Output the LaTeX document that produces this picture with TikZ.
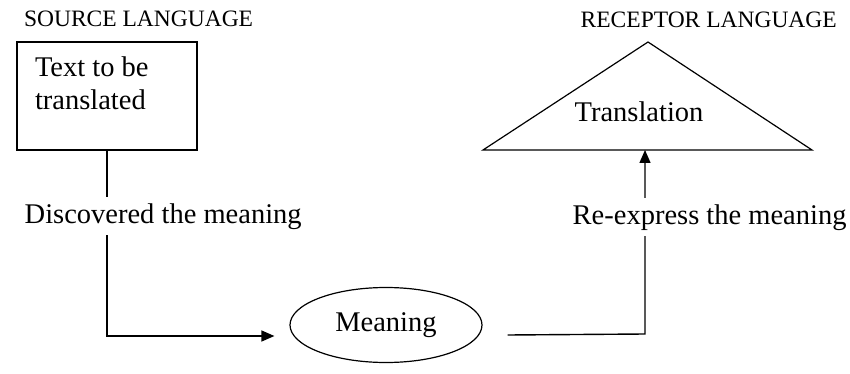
\documentclass[tikz,border=0pt]{standalone}
\usepackage{fontspec}
\setmainfont{Liberation Serif}
\usetikzlibrary{positioning, shapes.geometric, arrows.meta}

\begin{document}
\begin{tikzpicture}[x = 1pt, y = -1pt, line width = 1.4pt,
    box/.style = {draw, rectangle, minimum width = 180pt, minimum height = 108pt},
    mean/.style = {draw, ellipse, line width = 1.2pt, minimum width = 192pt, minimum height = 75pt, font = \fontsize{28.5}{33}\selectfont},
    words/.style = {inner sep = 0pt, font = \fontsize{28.5}{33}\selectfont},
    title/.style = {inner sep = 0pt, font = \fontsize{23.5}{28}\selectfont},
    says/.style = {fill = white, inner sep = 6pt, font = \fontsize{28.5}{33}\selectfont},
    arr/.style = {-{Triangle[length = 13pt, width = 11pt]}}]
    \useasboundingbox (0,0) rectangle (850,374);
    \node[box] (src) at (107,96) {};
    \node[title] (srclang) [above right = 14pt and 7pt of src.north west] {SOURCE LANGUAGE};
    \node[words, align = left] (srctext) [below right = 15pt and 18pt of src.north west] {Text to be\\translated};
    \node[mean] (mean) at (386,325) {Meaning};
    \coordinate (apex) at (648,42);
    \coordinate (baseL) at (483,150);
    \coordinate (baseR) at (812,150);
    \coordinate (hit) at (645,150);
    \coordinate (turn) at (645,334);
    \draw[line width = 1.2pt] (baseL) -- (apex) -- (baseR) -- cycle;
    \node[words] (trans) at (639,112) {Translation};
    \node[title, anchor = base west] (reclang) at (580,28) {RECEPTOR LANGUAGE};
    \draw[arr] (src.south) |- ([shift = {(-15pt,-11pt)}]mean.west);
    \draw[arr] ([shift = {(25pt,-10pt)}]mean.east) -- (turn) -- (hit);
    \node[says, anchor = base west] (discover) at (18,223) {Discovered the meaning};
    \node[says, anchor = base west] (reexpress) at (566,224) {Re-express the meaning};
\end{tikzpicture}
\end{document}
